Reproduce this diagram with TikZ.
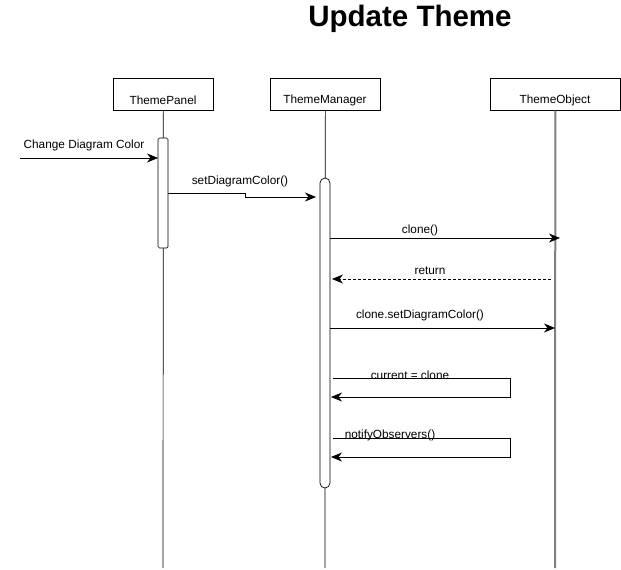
\documentclass[tikz,border=0pt]{standalone}
\usepackage{fontspec}
\setmainfont{Liberation Sans}
\usetikzlibrary{arrows.meta}
\begin{document}
\begin{tikzpicture}[x=1pt,y=-1pt,
  obj/.style={draw,line width=0.7pt,minimum width=#1,minimum height=32pt,inner sep=0pt},
  life/.style={line width=0.7pt},
  msg/.style={line width=0.7pt,-{Stealth[length=11pt,width=9pt,inset=3.5pt]}},
  lbl/.style={font=\fontsize{11.8}{13}\selectfont,inner sep=0pt}]
\useasboundingbox (0,0) rectangle (621,570);
\node[font=\bfseries\fontsize{29.5}{33}\selectfont] (title) at (410,19) {Update Theme};
% objects
\node[obj=100pt,anchor=north west] (tp) at (113,78) {};
\node[lbl] (tpl) at (163,100) {ThemePanel};
\node[obj=110pt,anchor=north west] (tm) at (270,78) {};
\node[lbl] (tml) at (325,100) {ThemeManager};
\node[obj=130pt,anchor=north west] (to) at (490,78) {};
\node[lbl] (tol) at (555,100) {ThemeObject};
% lifelines
\coordinate (tpe) at (163,568);
\coordinate (tme) at (325,568);
\coordinate (toe) at (555,568);
\draw[life] (tp.south) -- (tpe);
\draw[life] (tm.south) -- (tme);
\draw[line width=2pt,gray] (to.south) -- (toe);
% activations
\filldraw[fill=white,line width=0.7pt,rounded corners=1.5pt] (158,138) rectangle (168,248);
\filldraw[fill=white,line width=0.7pt,rounded corners=5pt] (320,178) rectangle (330,488);
% messages
\coordinate (c0) at (20,158);
\coordinate (c1) at (158,158);
\draw[msg] (c0) -- (c1);
\node[lbl] at (84,145.5) {Change Diagram Color};
\coordinate (s0) at (168,193);
\coordinate (s1) at (316,197);
\draw[msg] (s0) -- (245,193) -- (245,197) -- (s1);
\node[lbl] at (240,181.5) {setDiagramColor()};
\coordinate (k0) at (330,238);
\coordinate (k1) at (560,238);
\draw[msg] (k0) -- (k1);
\node[lbl] at (420,230.5) {clone()};
\coordinate (r0) at (551,279);
\coordinate (r1) at (332,279);
\draw[msg,dash pattern=on 3pt off 2pt] (r0) -- (r1);
\node[lbl] at (430,270.5) {return};
\coordinate (d0) at (330,328);
\coordinate (d1) at (555,328);
\draw[msg] (d0) -- (d1);
\node[lbl] at (420,315.5) {clone.setDiagramColor()};
\coordinate (u0) at (333,378);
\coordinate (u1) at (331,397);
\draw[msg] (u0) -- (510,378) -- (510,397) -- (u1);
\node[lbl] at (410,375) {current = clone};
\coordinate (n0) at (333,438);
\coordinate (n1) at (331,457);
\draw[msg] (n0) -- (510,438) -- (510,457) -- (n1);
\node[lbl] at (390,435) {notifyObservers()};
\end{tikzpicture}
\end{document}
